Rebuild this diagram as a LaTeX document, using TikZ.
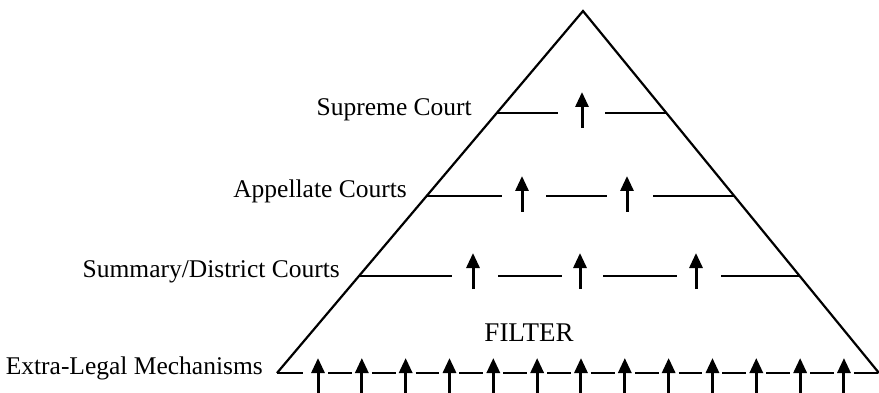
\documentclass[tikz,border=0pt]{standalone}
\usepackage{fontspec}
\setmainfont{Liberation Serif}
\usetikzlibrary{arrows.meta}
\begin{document}
\begin{tikzpicture}[x=1pt,y=-1pt,
  edge/.style={line width=2.2pt, line join=miter},
  levelline/.style={line width=1.8pt},
  uparrow/.style={line width=3pt, -{Triangle[width=13pt,length=15pt]}},
  label/.style={font=\fontsize{25.5}{28}\selectfont, anchor=base east, inner sep=0pt},
  biglabel/.style={font=\fontsize{27}{30}\selectfont, anchor=base, inner sep=0pt}]
\useasboundingbox (0,0) rectangle (879,393);
\clip (0,0) rectangle (879,393);
% pyramid corners
\coordinate (apex) at (583,11);
\coordinate (bl) at (277,373);
\coordinate (br) at (879,373);
\draw[edge] (bl) -- (apex) -- (br);
% labels
\node[label] (sc) at (472,116) {Supreme Court};
\node[label] (ac) at (407,197) {Appellate Courts};
\node[label] (dc) at (340,277) {Summary/District Courts};
\node[label] (el) at (263,374) {Extra-Legal Mechanisms};
\node[biglabel] (filter) at (529,341) {FILTER};
% Supreme Court level
\foreach \a/\b in {497/558, 605/667} \draw[levelline] (\a,113) -- (\b,113);
\foreach \x in {582} {\coordinate (s0) at (\x,128); \coordinate (s1) at (\x,92); \draw[uparrow] (s0) -- (s1);}
% Appellate level
\foreach \a/\b in {427/502, 546/607, 653/735} \draw[levelline] (\a,196) -- (\b,196);
\foreach \x in {522,627} {\coordinate (a0) at (\x,212); \coordinate (a1) at (\x,176); \draw[uparrow] (a0) -- (a1);}
% Summary level
\foreach \a/\b in {360/452, 498/562, 603/677, 721/800} \draw[levelline] (\a,276) -- (\b,276);
\foreach \x in {473,580,696} {\coordinate (d0) at (\x,289); \coordinate (d1) at (\x,253); \draw[uparrow] (d0) -- (d1);}
% Extra-legal base
\coordinate (b0) at (303,373);
\draw[levelline] (bl) -- (b0);
\foreach \i in {0,...,12} {
  \pgfmathsetmacro{\xx}{318+43.83*\i}
  \coordinate (t0) at (\xx,400);
  \coordinate (t1) at (\xx,358);
  \draw[uparrow] (t0) -- (t1);
  \pgfmathsetmacro{\da}{\xx+10}
  \pgfmathsetmacro{\db}{\xx+33.8}
  \coordinate (e0) at (\da,373);
  \coordinate (e1) at (\db,373);
  \draw[levelline] (e0) -- (e1);
}
\end{tikzpicture}
\end{document}
